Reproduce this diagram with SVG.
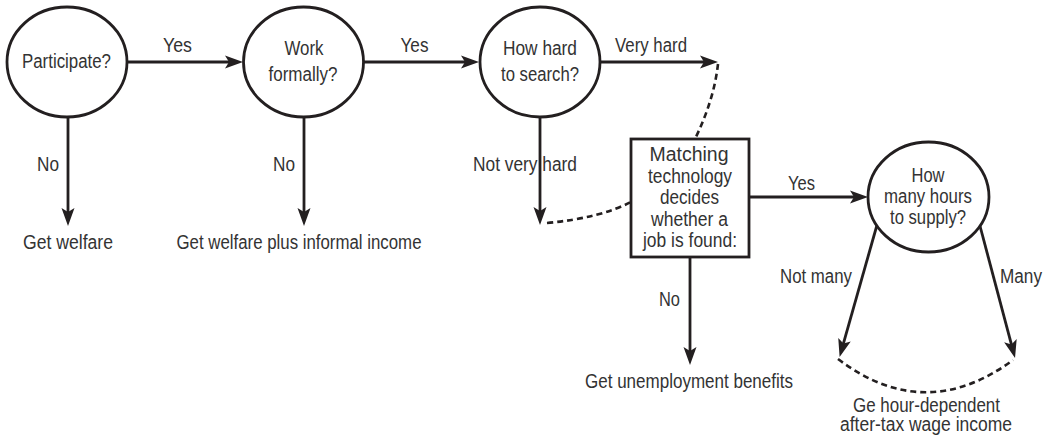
<svg xmlns="http://www.w3.org/2000/svg" width="1046" height="440" viewBox="0 0 1046 440">
<style>
  .node { fill: #fff; stroke: #231f20; stroke-width: 2.8; }
  .t { font-family: "Liberation Sans Narrow", "Liberation Sans", Arial, sans-serif; font-size: 20px; fill: #333; text-anchor: middle; }
  .e { text-anchor: end; }
  .s { text-anchor: start; }
  .conn { fill: none; stroke: #231f20; stroke-width: 2.8; }
  .arr { marker-end: url(#ah); }
  .dash { fill: none; stroke: #231f20; stroke-width: 2.6; stroke-dasharray: 6 4; }
</style>
<defs>
  <marker id="ah" markerUnits="userSpaceOnUse" markerWidth="20" markerHeight="14" viewBox="0 0 20 14" refX="9" refY="7" orient="auto">
    <path d="M20,7 L2,0.5 L6,7 L2,13.5 Z" fill="#231f20"/>
  </marker>
</defs>
<rect width="1046" height="440" fill="#fff"/>

<g id="connectors">
  <line class="conn arr" x1="127" y1="62" x2="232" y2="62"/>
  <text class="t" x="177.5" y="52" textLength="29" lengthAdjust="spacingAndGlyphs">Yes</text>
  <line class="conn arr" x1="68" y1="117" x2="68" y2="215"/>
  <text class="t e" x="59" y="171" textLength="22" lengthAdjust="spacingAndGlyphs">No</text>

  <line class="conn arr" x1="363" y1="62" x2="468" y2="62"/>
  <text class="t" x="414.5" y="52" textLength="28" lengthAdjust="spacingAndGlyphs">Yes</text>
  <line class="conn arr" x1="304" y1="117" x2="304" y2="215"/>
  <text class="t e" x="295" y="171" textLength="22" lengthAdjust="spacingAndGlyphs">No</text>

  <line class="conn arr" x1="600" y1="62" x2="707" y2="62"/>
  <text class="t" x="651" y="52" textLength="72" lengthAdjust="spacingAndGlyphs">Very hard</text>
  <path class="dash" d="M718,64 Q714,100 695,139"/>

  <text class="t" x="525" y="171" textLength="104" lengthAdjust="spacingAndGlyphs">Not very hard</text>
  <line class="conn arr" x1="540" y1="117" x2="540" y2="214"/>
  <path class="dash" d="M547,223 Q600,218 631,202"/>

  <line class="conn arr" x1="749" y1="197" x2="857" y2="197"/>
  <text class="t" x="801.5" y="190" textLength="27" lengthAdjust="spacingAndGlyphs">Yes</text>
  <line class="conn arr" x1="690" y1="257" x2="690" y2="354"/>
  <text class="t e" x="680" y="306" textLength="21" lengthAdjust="spacingAndGlyphs">No</text>

  <line class="conn arr" x1="877" y1="225" x2="842.6" y2="346.4"/>
  <text class="t e" x="852" y="283" textLength="72" lengthAdjust="spacingAndGlyphs">Not many</text>
  <line class="conn arr" x1="980" y1="226" x2="1012.2" y2="347.4"/>
  <text class="t s" x="1000" y="283" textLength="42" lengthAdjust="spacingAndGlyphs">Many</text>
  <path class="dash" d="M838,359 Q925,425 1013,360"/>
</g>

<g id="participate">
  <ellipse class="node" cx="67" cy="62" rx="60" ry="55"/>
  <text class="t" x="66.5" y="68" textLength="89" lengthAdjust="spacingAndGlyphs">Participate?</text>
</g>
<g id="welfare">
  <text class="t" x="68" y="249" textLength="90" lengthAdjust="spacingAndGlyphs">Get welfare</text>
</g>
<g id="work-formally">
  <ellipse class="node" cx="303.5" cy="62" rx="60" ry="55"/>
  <text class="t" x="304" y="55" textLength="39" lengthAdjust="spacingAndGlyphs">Work</text>
  <text class="t" x="303" y="81" textLength="69" lengthAdjust="spacingAndGlyphs">formally?</text>
</g>
<g id="welfare-informal">
  <text class="t" x="299" y="249" textLength="245" lengthAdjust="spacingAndGlyphs">Get welfare plus informal income</text>
</g>
<g id="how-hard">
  <ellipse class="node" cx="540" cy="62" rx="60" ry="55"/>
  <text class="t" x="540" y="55" textLength="74" lengthAdjust="spacingAndGlyphs">How hard</text>
  <text class="t" x="540" y="81" textLength="78" lengthAdjust="spacingAndGlyphs">to search?</text>
</g>
<g id="matching">
  <rect class="node" x="631" y="139" width="118" height="118"/>
  <text class="t" x="689" y="161" textLength="79" lengthAdjust="spacingAndGlyphs">Matching</text>
  <text class="t" x="690" y="182.5" textLength="84" lengthAdjust="spacingAndGlyphs">technology</text>
  <text class="t" x="689.5" y="204" textLength="59" lengthAdjust="spacingAndGlyphs">decides</text>
  <text class="t" x="689.5" y="225.5" textLength="77" lengthAdjust="spacingAndGlyphs">whether a</text>
  <text class="t" x="690" y="247" textLength="94" lengthAdjust="spacingAndGlyphs">job is found:</text>
</g>
<g id="unemployment">
  <text class="t" x="689" y="388" textLength="208" lengthAdjust="spacingAndGlyphs">Get unemployment benefits</text>
</g>
<g id="hours">
  <ellipse class="node" cx="928.5" cy="197" rx="60.5" ry="55"/>
  <text class="t" x="928" y="182" textLength="33" lengthAdjust="spacingAndGlyphs">How</text>
  <text class="t" x="928" y="203" textLength="88" lengthAdjust="spacingAndGlyphs">many hours</text>
  <text class="t" x="928" y="224" textLength="76" lengthAdjust="spacingAndGlyphs">to supply?</text>
</g>
<g id="wage-income">
  <text class="t" x="926.5" y="412" textLength="147" lengthAdjust="spacingAndGlyphs">Ge hour-dependent</text>
  <text class="t" x="926" y="431" textLength="172" lengthAdjust="spacingAndGlyphs">after-tax wage income</text>
</g>
</svg>
